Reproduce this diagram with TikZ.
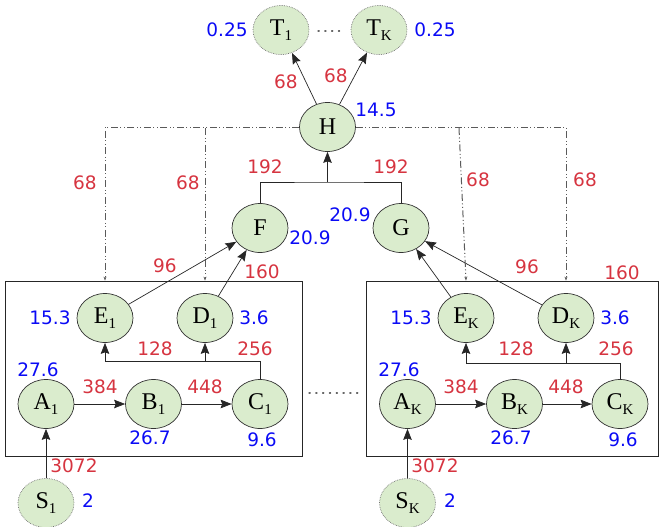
\documentclass[tikz,border=0pt]{standalone}
\usepackage{fontspec}
\newfontfamily\numfont{DejaVu Sans}
\newfontfamily\letfont{Liberation Serif}
\usetikzlibrary{shapes.geometric,arrows.meta}
\definecolor{nodefill}{RGB}{218,236,205}
\definecolor{numred}{RGB}{214,52,64}
\definecolor{numblue}{RGB}{10,10,245}
\definecolor{ddgray}{RGB}{90,90,90}
\newcommand\lowsub[1]{\raisebox{-0.5ex}{\fontsize{15}{15}\selectfont #1}}
\tikzset{
  op/.style={ellipse, draw=black!80, line width=0.7pt, fill=nodefill,
    minimum width=56pt, minimum height=49pt, inner sep=0pt,
    font=\letfont\fontsize{24}{26}\selectfont},
  io/.style={op, draw=black!55, densely dotted},
  arr/.style={-{Stealth[length=11pt,width=8.5pt,inset=1.5pt]}, line width=0.7pt, draw=black!85},
  link/.style={line width=0.7pt, draw=black!85},
  dd/.style={ddgray, line width=1pt,
    dash pattern=on 7pt off 2.5pt on 1pt off 2.5pt on 1pt off 2.5pt,
    -{Stealth[length=4pt,width=3pt]}},
  rn/.style={text=numred, font=\numfont\fontsize{18.5}{20}\selectfont, inner sep=0pt},
  bn/.style={text=numblue, font=\numfont\fontsize{18.5}{20}\selectfont, inner sep=0pt},
  boxst/.style={draw=black!85, line width=0.8pt, inner sep=0pt},
  dotsep/.style={black!60, line width=1.2pt, dash pattern=on 1.2pt off 5.6pt, line cap=round}
}
\begin{document}
\begin{tikzpicture}[x=1pt,y=-1pt]
\useasboundingbox (0,0) rectangle (659,527);
% boxes
\node[boxst, minimum width=297pt, minimum height=175pt] (boxL) at (153.5,368.5) {};
\node[boxst, minimum width=292pt, minimum height=175pt] (boxR) at (512,368.5) {};
% top
\node[io] (T1) at (281,30) {T\lowsub{1}};
\node[io] (TK) at (379,30) {T\lowsub{K}};
\node[op] (H) at (327.5,127) {H};
\node[op] (F) at (260,228) {F};
\node[op] (G) at (401,228) {G};
% left
\node[op] (E1) at (105,318) {E\lowsub{1}};
\node[op] (D1) at (205,318) {D\lowsub{1}};
\node[op] (A1) at (46,404) {A\lowsub{1}};
\node[op] (B1) at (153.5,404) {B\lowsub{1}};
\node[op] (C1) at (260,404) {C\lowsub{1}};
\node[io] (S1) at (46,503) {S\lowsub{1}};
% right
\node[op] (EK) at (466,318) {E\lowsub{K}};
\node[op] (DK) at (566,318) {D\lowsub{K}};
\node[op] (AK) at (407.5,404) {A\lowsub{K}};
\node[op] (BK) at (514.5,404) {B\lowsub{K}};
\node[op] (CK) at (620,404) {C\lowsub{K}};
\node[io] (SK) at (407.5,503) {S\lowsub{K}};
% dots
\coordinate (td1) at (318,31);
\coordinate (td2) at (345,31);
\draw[dotsep] (td1) -- (td2);
\coordinate (md1) at (309,393);
\coordinate (md2) at (362,393);
\draw[dotsep] (md1) -- (md2);
% edges
\draw[arr] (H) -- (T1);
\draw[arr] (H) -- (TK);
\coordinate (fg) at (327.5,182);
\draw[link] (F.north) |- (fg) -| (G.north);
\draw[arr] (fg) -- (H.south);
\draw[arr] (E1) -- (F);
\draw[arr] (D1) -- (F);
\draw[arr] (EK) -- (G);
\draw[arr] (DK) -- (G);
\draw[arr] (S1) -- (A1);
\draw[arr] (A1) -- (B1);
\draw[arr] (B1) -- (C1);
\coordinate (cj1) at (260,361);
\draw[arr] (C1.north) -- (cj1) -| (E1.south);
\draw[arr] (D1.south |- cj1) -- (D1.south);
\draw[arr] (SK) -- (AK);
\draw[arr] (AK) -- (BK);
\draw[arr] (BK) -- (CK);
\coordinate (cjK) at (620,363);
\draw[arr] (CK.north) -- (cjK) -| (EK.south);
\draw[arr] (DK.south |- cjK) -- (DK.south);
% dash-dot
\coordinate (hl) at (205,128);
\coordinate (hr) at (459,128);
\draw[dd] (H.west) -| (E1.north |- boxL.north);
\draw[dd] (hl) -- (D1.north |- boxL.north);
\draw[dd] (H.east) -| (DK.north |- boxR.north);
\draw[dd] (hr) -- (EK.north |- boxR.north);
% numbers
\node[bn] (n1) at (227,30) {0.25};
\node[bn] (n2) at (435,30) {0.25};
\node[rn] (n3) at (286,82) {68};
\node[rn] (n4) at (336,76) {68};
\node[bn] (n5) at (376,110) {14.5};
\node[rn] (n6) at (85,183) {68};
\node[rn] (n7) at (188,183) {68};
\node[rn] (n8) at (478,180) {68};
\node[rn] (n9) at (585,180) {68};
\node[rn] (n10) at (265,167) {192};
\node[rn] (n11) at (391,167) {192};
\node[bn] (n12) at (310,238) {20.9};
\node[bn] (n13) at (350,215) {20.9};
\node[rn] (n14) at (165,266) {96};
\node[rn] (n15) at (262,272) {160};
\node[rn] (n16) at (527,267) {96};
\node[rn] (n17) at (622,273) {160};
% left box numbers
\node[bn] (n18) at (50,318) {15.3};
\node[bn] (n19) at (254,318) {3.6};
\node[rn] (n20) at (155,349) {128};
\node[rn] (n21) at (255,349) {256};
\node[bn] (n22) at (38,370) {27.6};
\node[rn] (n23) at (100,387) {384};
\node[rn] (n24) at (205,387) {448};
\node[bn] (n25) at (150,438) {26.7};
\node[bn] (n26) at (262,440) {9.6};
\node[rn] (n27) at (74,466) {3072};
\node[bn] (n28) at (88,501) {2};
% right box numbers
\node[bn] (n29) at (411,318) {15.3};
\node[bn] (n30) at (615,318) {3.6};
\node[rn] (n31) at (516,349) {128};
\node[rn] (n32) at (616,349) {256};
\node[bn] (n33) at (399,370) {27.6};
\node[rn] (n34) at (461,387) {384};
\node[rn] (n35) at (566,387) {448};
\node[bn] (n36) at (511,438) {26.7};
\node[bn] (n37) at (623,440) {9.6};
\node[rn] (n38) at (435,466) {3072};
\node[bn] (n39) at (450,501) {2};
\end{tikzpicture}
\end{document}
